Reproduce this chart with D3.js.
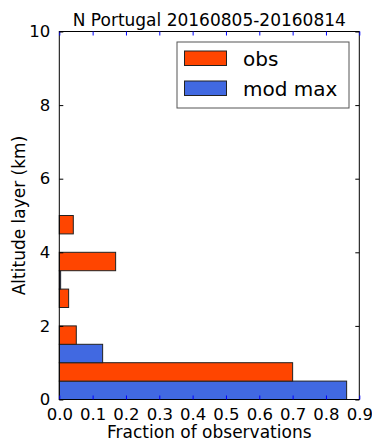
<!DOCTYPE html>
<html>
<head>
<meta charset="utf-8">
<script src="https://cdn.jsdelivr.net/npm/d3@7"></script>
<style>
  html, body { margin: 0; padding: 0; background: #fff; }
  svg { display: block; font-family: "DejaVu Sans", sans-serif; }
</style>
</head>
<body>
<svg id="chart" width="372" height="442"></svg>
<script>
// Altitude layers (km, lower edge of each 1-km layer)
const layers = [0, 1, 2, 3, 4];
// Fraction of observations per layer
const obsFraction = [0.70, 0.051, 0.028, 0.169, 0.042];
const modMaxFraction = [0.862, 0.13, 0.0, 0.004, 0.0];
const seriesNames = ["obs", "mod max"];
const seriesColors = ["#ff4500", "#4169e1"];
const xTicks = [0, 0.1, 0.2, 0.3, 0.4, 0.5, 0.6, 0.7, 0.8, 0.9];
const yTicks = [0, 2, 4, 6, 8, 10];
const titleText = "N Portugal 20160805-20160814";

const svg = d3.select("#chart");
const m = { left: 59.3, right: 359.3, top: 31.5, bottom: 399.5 };

const x = d3.scaleLinear().domain([0, 0.9]).range([m.left, m.right]);
const y = d3.scaleLinear().domain([0, 10]).range([m.bottom, m.top]);

// bars: model in the lower half of each layer, observations in the upper half
const bars = [];
layers.forEach((l, i) => {
  bars.push({ lo: l, hi: l + 0.5, v: modMaxFraction[i], c: seriesColors[1] });
  bars.push({ lo: l + 0.5, hi: l + 1, v: obsFraction[i], c: seriesColors[0] });
});

svg.append("g").selectAll("rect")
  .data(bars.filter(d => d.v > 0))
  .join("rect")
  .attr("x", x(0))
  .attr("y", d => y(d.hi))
  .attr("width", d => x(d.v) - x(0))
  .attr("height", d => y(d.lo) - y(d.hi))
  .attr("fill", d => d.c)
  .attr("stroke", "#222")
  .attr("stroke-width", 1);

// frame
svg.append("rect")
  .attr("x", m.left).attr("y", m.top)
  .attr("width", m.right - m.left).attr("height", m.bottom - m.top)
  .attr("fill", "none").attr("stroke", "#000").attr("stroke-width", 1);

// x ticks (blue, inward, top and bottom)
const xAxisB = d3.axisBottom(x).tickValues(xTicks).tickSizeInner(-4).tickSizeOuter(0)
  .tickPadding(9).tickFormat(d3.format(".1f"));
const gxb = svg.append("g").attr("transform", `translate(0,${m.bottom})`).call(xAxisB);
gxb.select(".domain").remove();
gxb.selectAll(".tick line").attr("stroke", "#0000ff");
gxb.selectAll(".tick text").attr("font-size", 16.5).attr("fill", "#000")
  .attr("font-family", "DejaVu Sans, sans-serif");

const xAxisT = d3.axisTop(x).tickValues(xTicks).tickSizeInner(-4).tickSizeOuter(0).tickFormat("");
const gxt = svg.append("g").attr("transform", `translate(0,${m.top})`).call(xAxisT);
gxt.select(".domain").remove();
gxt.selectAll(".tick line").attr("stroke", "#0000ff");

// y ticks (black, inward, left and right)
const yAxisL = d3.axisLeft(y).tickValues(yTicks).tickSizeInner(-4).tickSizeOuter(0).tickPadding(9);
const gyl = svg.append("g").attr("transform", `translate(${m.left},0)`).call(yAxisL);
gyl.select(".domain").remove();
gyl.selectAll(".tick line").attr("stroke", "#000");
gyl.selectAll(".tick text").attr("font-size", 16.5).attr("fill", "#000")
  .attr("font-family", "DejaVu Sans, sans-serif");

const yAxisR = d3.axisRight(y).tickValues(yTicks).tickSizeInner(-4).tickSizeOuter(0).tickFormat("");
const gyr = svg.append("g").attr("transform", `translate(${m.right},0)`).call(yAxisR);
gyr.select(".domain").remove();
gyr.selectAll(".tick line").attr("stroke", "#000");

// titles
svg.append("text").attr("x", (m.left + m.right) / 2).attr("y", 26)
  .attr("text-anchor", "middle").attr("font-size", 17).text(titleText);
svg.append("text").attr("x", (m.left + m.right) / 2).attr("y", 438)
  .attr("text-anchor", "middle").attr("font-size", 17).text("Fraction of observations");
svg.append("text")
  .attr("transform", `translate(25,${(m.top + m.bottom) / 2}) rotate(-90)`)
  .attr("text-anchor", "middle").attr("font-size", 17).text("Altitude layer (km)");

// legend
const lg = svg.append("g");
lg.append("rect").attr("x", 177).attr("y", 42).attr("width", 172).attr("height", 66)
  .attr("fill", "#fff").attr("stroke", "#555").attr("stroke-width", 1);
seriesNames.forEach((name, i) => {
  const yy = 51 + i * 30;
  lg.append("rect").attr("x", 184.5).attr("y", yy).attr("width", 42).attr("height", 14.5)
    .attr("fill", seriesColors[i]).attr("stroke", "#222").attr("stroke-width", 1);
  lg.append("text").attr("x", 243).attr("y", yy + 14.5).attr("font-size", 20).text(name);
});
</script>
</body>
</html>
